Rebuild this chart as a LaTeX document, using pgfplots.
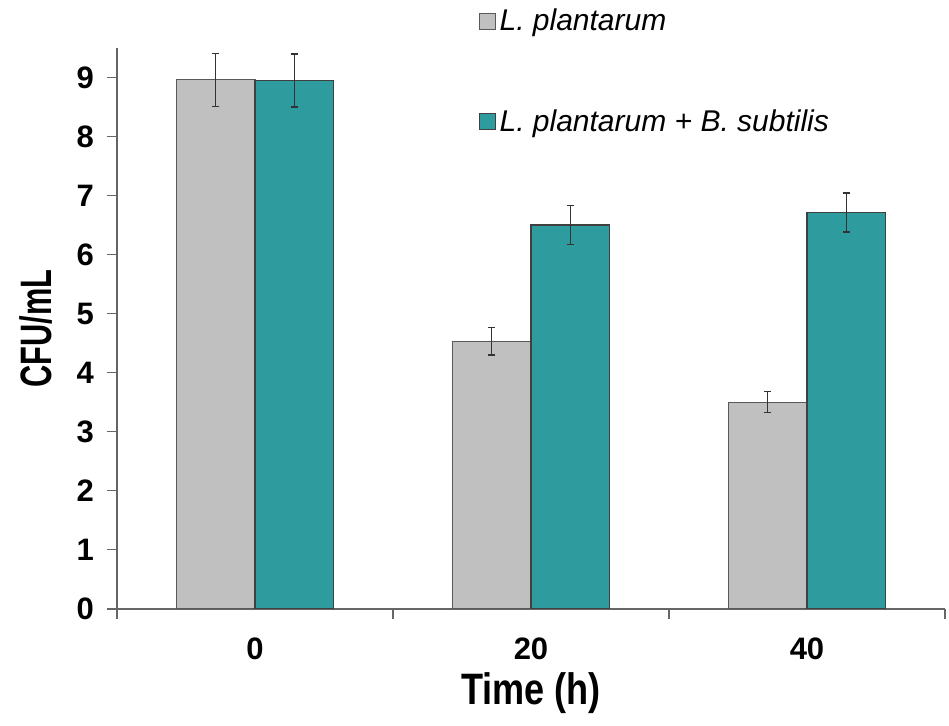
\documentclass[border=0pt]{standalone}
\usepackage{pgfplots}
\pgfplotsset{compat=1.18}
\usepackage{fontspec}
\setmainfont{Liberation Sans}
\newfontfamily\narrowfont[FakeStretch=0.82]{Liberation Sans}
\newfontfamily\ylabfont[FakeStretch=0.7]{Liberation Sans}
\definecolor{barGray}{HTML}{C0C0C0}
\definecolor{barTeal}{HTML}{2E9B9F}
\definecolor{axisGray}{HTML}{666666}
\definecolor{errInk}{HTML}{333333}

\begin{document}
\begin{tikzpicture}
\begin{axis}[
  scale only axis, width=414pt, height=280.35pt,
  ybar=0pt, bar width=39.25pt,
  xmin=-0.5, xmax=2.5, ymin=0, ymax=9.5,
  axis x line*=bottom, axis y line*=left,
  axis line style={axisGray, line width=0.8pt},
  tick style={axisGray, line width=0.8pt},
  tick align=outside, major tick length=5pt,
  xtick={-0.5,0.5,1.5,2.5}, xticklabels={},
  extra x ticks={0,1,2}, extra x tick labels={0,20,40},
  extra x tick style={tick style={draw=none}, xticklabel style={yshift=-6pt}},
  ytick={0,1,...,9},
  /pgf/number format/assume math mode=true,
  tick label style={font=\fontsize{15.5}{18}\selectfont\bfseries},
  yticklabel style={xshift=-3pt},
  xlabel={\narrowfont\bfseries Time (h)},
  ylabel={\ylabfont\bfseries CFU/mL},
  label style={font=\fontsize{22}{26}\selectfont},
  xlabel style={at={(axis description cs:0.5,-0.15)}, anchor=center},
  ylabel style={at={(axis description cs:-0.098,0.5)}, anchor=center},
  legend style={at={(axis description cs:0.429,1.085)}, anchor=north west,
    draw=none, fill=none, row sep=34pt, font=\fontsize{15}{18}\selectfont\itshape,
    /tikz/every even column/.append style={column sep=3pt}},
  legend cell align=left,
  legend image code/.code={\draw[#1, line width=0.5pt] (0pt,-4pt) rectangle (8pt,4pt);},
  error bars/y dir=both, error bars/y explicit,
  error bars/error bar style={errInk, line width=0.7pt},
  error bars/error mark options={rotate=90, errInk, mark size=1.8pt, line width=0.7pt},
]
\coordinate (O) at (rel axis cs:0,0);
\addplot[fill=barGray, draw=black!65, line width=0.6pt] coordinates {
  (0,8.96) +- (0,0.45)
  (1,4.53) +- (0,0.23)
  (2,3.50) +- (0,0.18)
};
\addplot[fill=barTeal, draw=black!75, line width=0.6pt] coordinates {
  (0,8.95) +- (0,0.45)
  (1,6.50) +- (0,0.33)
  (2,6.71) +- (0,0.33)
};
\legend{L. plantarum, L. plantarum + B. subtilis}
\end{axis}
\pgfresetboundingbox
\useasboundingbox ([shift={(-58.5pt,-58.15pt)}]O) rectangle ([shift={(416pt,304.35pt)}]O);
\end{tikzpicture}
\end{document}
